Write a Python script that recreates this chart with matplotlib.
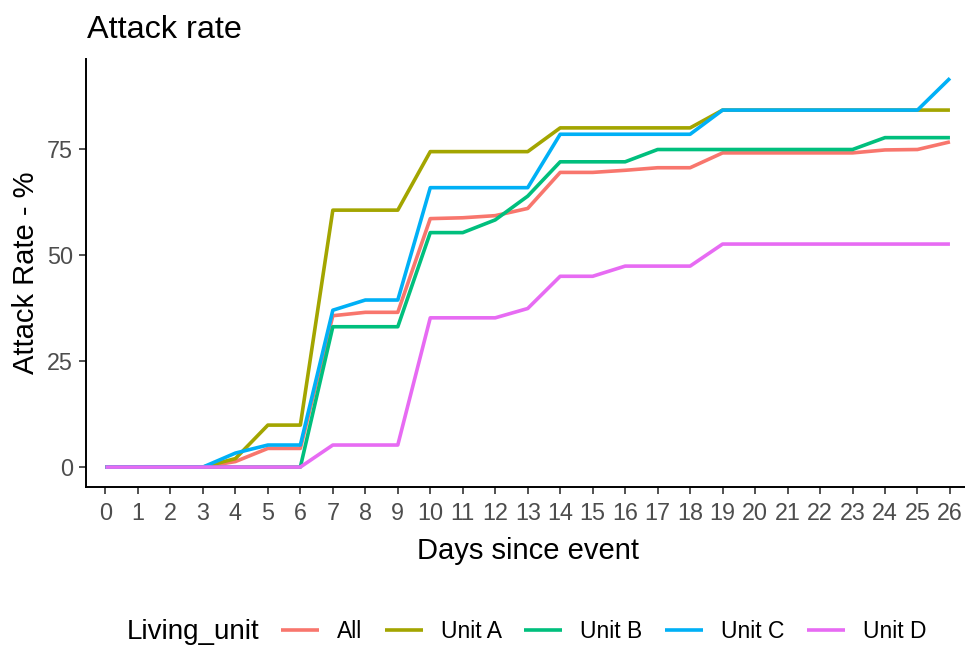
import matplotlib
matplotlib.use("Agg")
import matplotlib.pyplot as plt
import numpy as np

plt.rcParams['font.family'] = ['Liberation Sans', 'DejaVu Sans']

# days since event (discrete axis 0..26)
days = list(range(27))

# attack rate (%) per living unit
rate_all = [0, 0, 0, 0, 1.3, 4.4, 4.4, 35.7, 36.5, 36.5, 58.6, 58.8, 59.3, 61.0,
            69.5, 69.5, 70.0, 70.6, 70.6, 74.1, 74.1, 74.1, 74.1, 74.1, 74.8, 74.9, 76.7]
rate_a = [0, 0, 0, 0, 2.0, 9.9, 9.9, 60.6, 60.6, 60.6, 74.4, 74.4, 74.4, 74.4,
          80.0, 80.0, 80.0, 80.0, 80.0, 84.2, 84.2, 84.2, 84.2, 84.2, 84.2, 84.2, 84.2]
rate_b = [0, 0, 0, 0, 0, 0, 0, 33.1, 33.1, 33.1, 55.3, 55.3, 58.3, 63.9,
          72.0, 72.0, 72.0, 74.9, 74.9, 74.9, 74.9, 74.9, 74.9, 74.9, 77.7, 77.7, 77.7]
rate_c = [0, 0, 0, 0, 3.3, 5.2, 5.2, 37.0, 39.4, 39.4, 65.9, 65.9, 65.9, 65.9,
          78.5, 78.5, 78.5, 78.5, 78.5, 84.2, 84.2, 84.2, 84.2, 84.2, 84.2, 84.2, 91.7]
rate_d = [0, 0, 0, 0, 0, 0, 0, 5.2, 5.2, 5.2, 35.2, 35.2, 35.2, 37.4,
          45.0, 45.0, 47.4, 47.4, 47.4, 52.6, 52.6, 52.6, 52.6, 52.6, 52.6, 52.6, 52.6]

units = ['All', 'Unit A', 'Unit B', 'Unit C', 'Unit D']
series = [rate_all, rate_a, rate_b, rate_c, rate_d]
colors = ['#F8766D', '#A3A500', '#00BF7D', '#00B0F6', '#E76BF3']

fig = plt.figure(figsize=(9.65, 6.48), dpi=100)
ax = fig.add_axes([0.0891, 0.2492, 0.9155, 0.660])

for name, vals, col in zip(units, series, colors):
    ax.plot(days, vals, color=col, lw=2.6, label=name, solid_capstyle='butt')

ax.set_xlim(-0.6, 26.6)
ymax = max(max(s) for s in series)
ax.set_ylim(-0.05 * ymax, 1.05 * ymax)
ax.set_xticks(days)
ax.set_yticks([0, 25, 50, 75])

for side in ['top', 'right']:
    ax.spines[side].set_visible(False)
for side in ['left', 'bottom']:
    ax.spines[side].set_linewidth(1.4)
    ax.spines[side].set_color('black')
ax.tick_params(axis='both', length=5, width=1.2, color='#333333',
               labelcolor='#4D4D4D', labelsize=16.8, pad=4.5)
ax.tick_params(axis='x', pad=6)

ax.set_xlabel('Days since event', fontsize=21, labelpad=9)
ax.set_ylabel('Attack Rate - %', fontsize=21, labelpad=5)

fig.text(87 / 965, 1 - 38 / 648, 'Attack rate', fontsize=23.3, va='baseline', ha='left')

# legend along the bottom: title on the left, keys in one row
fig.text(127 / 965, 16 / 648, 'Living_unit', fontsize=20, va='center', ha='left')
fig.legend(loc='center left', bbox_to_anchor=(281 / 965, 16 / 648), ncol=5,
           frameon=False, fontsize=16.5, handlelength=1.66, handletextpad=0.77,
           columnspacing=1.0, borderpad=0, borderaxespad=0)

plt.savefig('out.png', dpi=100)
